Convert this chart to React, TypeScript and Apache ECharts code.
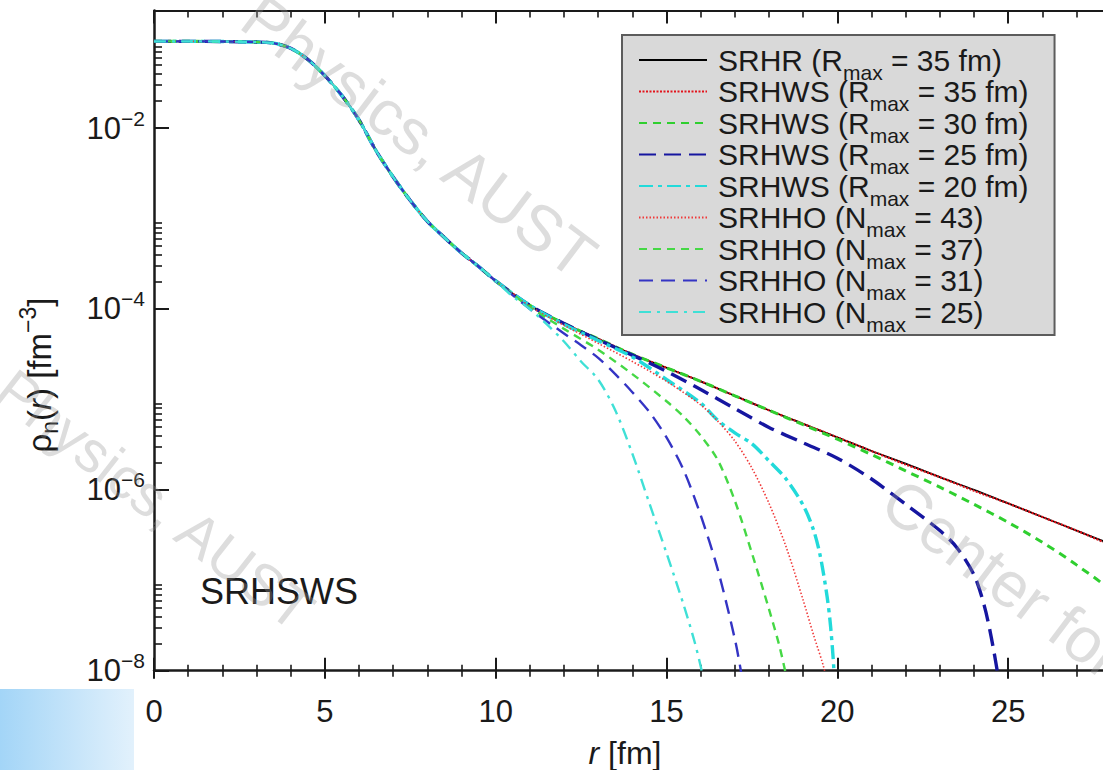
import React, { useEffect, useRef } from "react";
import * as echarts from "echarts";

const FONT = "'Liberation Sans', Arial, Helvetica, sans-serif";
const INK = "#1a1a1a";

// r [fm] and log10(rho_n [fm^-3]) of the inner part, common to every calculation
const R_CORE = [0, 1, 2, 3, 3.5, 4, 4.5, 5, 5.5, 6, 6.5, 7, 7.5, 8, 8.5, 9, 9.5, 10];
const LOG_RHO_CORE = [-1.04, -1.04, -1.042, -1.048, -1.06, -1.117, -1.24, -1.42, -1.64, -1.91, -2.25, -2.54, -2.8, -3.03, -3.21, -3.38, -3.53, -3.69];

// tails
const R_SRHR = [11, 12, 13, 14, 15, 16, 17, 18, 19, 20, 21, 22, 23, 24, 25, 26, 27, 28, 29, 30];
const LOG_SRHR = [-3.96, -4.16, -4.33, -4.5, -4.65, -4.8, -4.96, -5.12, -5.27, -5.42, -5.57, -5.71, -5.86, -6.0, -6.15, -6.3, -6.45, -6.6, -6.75, -6.9];

const R_WS35 = [11, 12, 13, 14, 15, 16, 17, 18, 19, 20, 21, 22, 23, 24, 25, 26, 27, 28, 29, 30];
const LOG_WS35 = [-3.96, -4.16, -4.33, -4.5, -4.65, -4.8, -4.96, -5.12, -5.27, -5.42, -5.57, -5.72, -5.86, -6.01, -6.15, -6.3, -6.45, -6.61, -6.76, -6.91];

const R_WS30 = [11, 12, 13, 14, 15, 16, 17, 18, 19, 20, 21, 22, 23, 24, 25, 26, 27, 28, 29, 29.5, 30];
const LOG_WS30 = [-3.96, -4.16, -4.33, -4.5, -4.65, -4.8, -4.96, -5.12, -5.28, -5.44, -5.61, -5.79, -5.97, -6.16, -6.36, -6.58, -6.83, -7.12, -7.6, -8.1, -9.5];

const R_WS25 = [11, 12, 13, 14, 15, 16, 17, 18, 19, 20, 21, 22, 23, 23.5, 24, 24.3, 24.5, 24.7, 24.9, 25];
const LOG_WS25 = [-3.96, -4.16, -4.34, -4.51, -4.69, -4.89, -5.1, -5.31, -5.48, -5.65, -5.88, -6.16, -6.45, -6.64, -6.94, -7.28, -7.62, -8.05, -8.6, -9.5];

const R_WS20 = [11, 12, 13, 14, 15, 16, 16.5, 17, 17.5, 18, 18.5, 19, 19.3, 19.5, 19.7, 19.8, 19.9, 20];
const LOG_WS20 = [-3.96, -4.17, -4.35, -4.53, -4.78, -5.04, -5.23, -5.37, -5.49, -5.68, -5.88, -6.17, -6.44, -6.73, -7.18, -7.5, -8.0, -9.0];

const R_HO43 = [11, 12, 13, 14, 15, 16, 16.5, 17, 17.5, 18, 18.5, 19, 19.3, 19.6, 19.8, 20];
const LOG_HO43 = [-3.97, -4.18, -4.38, -4.58, -4.8, -5.06, -5.24, -5.46, -5.76, -6.15, -6.63, -7.22, -7.6, -7.96, -8.3, -8.9];

const R_HO37 = [11, 12, 13, 14, 15, 15.5, 16, 16.5, 17, 17.5, 18, 18.3, 18.5, 18.7];
const LOG_HO37 = [-3.98, -4.22, -4.45, -4.72, -5.02, -5.19, -5.4, -5.67, -6.12, -6.7, -7.32, -7.72, -8.05, -8.4];

const R_HO31 = [11, 12, 12.5, 13, 13.5, 14, 14.5, 15, 15.5, 16, 16.5, 17, 17.2, 17.4];
const LOG_HO31 = [-4.0, -4.27, -4.4, -4.54, -4.72, -4.92, -5.14, -5.42, -5.78, -6.28, -6.88, -7.65, -8.05, -8.5];

const R_HO25 = [10.5, 11, 11.5, 12, 12.5, 13, 13.5, 14, 14.5, 15, 15.5, 15.8, 16, 16.2];
const LOG_HO25 = [-3.86, -4.0, -4.17, -4.36, -4.58, -4.78, -5.12, -5.6, -6.15, -6.7, -7.27, -7.65, -7.95, -8.3];

const SERIES_NAMES = [
  "SRHR (Rmax = 35 fm)",
  "SRHWS (Rmax = 35 fm)",
  "SRHWS (Rmax = 30 fm)",
  "SRHWS (Rmax = 25 fm)",
  "SRHWS (Rmax = 20 fm)",
  "SRHHO (Nmax = 43)",
  "SRHHO (Nmax = 37)",
  "SRHHO (Nmax = 31)",
  "SRHHO (Nmax = 25)",
];
const SERIES_R = [R_SRHR, R_WS35, R_WS30, R_WS25, R_WS20, R_HO43, R_HO37, R_HO31, R_HO25];
const SERIES_LOG = [LOG_SRHR, LOG_WS35, LOG_WS30, LOG_WS25, LOG_WS20, LOG_HO43, LOG_HO37, LOG_HO31, LOG_HO25];

// tick labels / tick positions
const X_TICK_LABELS = [0, 5, 10, 15, 20, 25];
const Y_MAJOR = [1e-8, 1e-6, 1e-4, 1e-2];
const Y_MINOR = [
  2e-8, 3e-8, 4e-8, 5e-8, 6e-8, 7e-8, 8e-8, 9e-8,
  2e-6, 3e-6, 4e-6, 5e-6, 6e-6, 7e-6, 8e-6, 9e-6,
  2e-4, 3e-4, 4e-4, 5e-4, 6e-4, 7e-4, 8e-4, 9e-4,
  2e-2, 3e-2, 4e-2, 5e-2, 6e-2, 7e-2, 8e-2, 9e-2,
];

const STYLES = [
  { color: "#000000", width: 1.8, type: "solid" as any },
  { color: "#e3141c", width: 2.2, type: [2, 1.5] },
  { color: "#2fcf2f", width: 3, type: [8, 6] },
  { color: "#1616a0", width: 3.4, type: [17, 8] },
  { color: "#22dada", width: 3.4, type: [14, 5, 4, 5] },
  { color: "#f03a3a", width: 1.6, type: [1.5, 2] },
  { color: "#45d845", width: 2.4, type: [8, 6] },
  { color: "#3434c4", width: 2.4, type: [14, 8] },
  { color: "#3fe0d6", width: 2.4, type: [12, 6, 3, 6] },
];

const WATERMARK_FILL = "rgba(150,150,150,0.32)";

function buildOption(): any {
  const series = SERIES_NAMES.map((name, i) => {
    const rs = R_CORE.concat(SERIES_R[i]);
    const ls = LOG_RHO_CORE.concat(SERIES_LOG[i]);
    return {
      name,
      type: "line",
      xAxisIndex: 0,
      yAxisIndex: 0,
      symbol: "none",
      showSymbol: false,
      smooth: 0.3,
      clip: true,
      lineStyle: { color: STYLES[i].color, width: STYLES[i].width, type: STYLES[i].type, cap: "butt" },
      itemStyle: { color: STYLES[i].color },
      emphasis: { disabled: true },
      data: rs.map((r, k) => [r, Math.pow(10, ls[k])]),
    };
  });

  const axisLineStyle = { color: INK, width: 2.5 };
  const tickStyle = { color: INK, width: 2 };
  const minorStyle = { color: INK, width: 1.6 };

  return {
    animation: false,
    backgroundColor: "#ffffff",
    grid: {
      left: 154,
      right: -76,
      top: 10.5,
      bottom: 99.3,
      containLabel: false,
      outerBoundsMode: "none",
    },
    legend: {
      orient: "vertical",
      left: 622,
      top: 35,
      itemWidth: 68,
      itemHeight: 14,
      itemGap: -13.5,
      padding: [2.5, 26, 0.5, 16],
      backgroundColor: "#d9d9d9",
      borderColor: "#5c5c5c",
      borderWidth: 2,
      borderRadius: 0,
      selectedMode: false,
      itemStyle: { opacity: 0, borderWidth: 0 },
      data: SERIES_NAMES,
      formatter: (name: string) => {
        const i = name.indexOf("max");
        return `{t0|${name.slice(0, i)}}{sub|max}{t|${name.slice(i + 3)}}`;
      },
      textStyle: {
        color: INK,
        fontFamily: FONT,
        fontSize: 30,
        rich: {
          t0: { fontFamily: FONT, fontSize: 30, color: INK, lineHeight: 30, padding: [0, 0, 0, 6] },
          t: { fontFamily: FONT, fontSize: 30, color: INK, lineHeight: 30 },
          sub: { fontFamily: FONT, fontSize: 21, color: INK, lineHeight: 30, padding: [24, 0, 0, 0] },
        },
      },
    },
    xAxis: [
      {
        type: "value",
        min: 0,
        max: 30,
        interval: 5,
        position: "bottom",
        name: "{i|r}{t| [fm]}",
        nameLocation: "middle",
        nameGap: 65,
        nameTextStyle: {
          fontFamily: FONT,
          fontSize: 32,
          color: INK,
          padding: [0, 83, 0, 0],
          rich: {
            i: { fontFamily: FONT, fontSize: 32, fontStyle: "italic", color: INK, lineHeight: 34 },
            t: { fontFamily: FONT, fontSize: 32, color: INK, lineHeight: 34 },
          },
        },
        axisLine: { show: true, onZero: false, lineStyle: axisLineStyle },
        axisTick: { show: true, inside: true, length: 13, lineStyle: tickStyle },
        minorTick: { show: true, splitNumber: 5, length: 6, lineStyle: minorStyle },
        axisLabel: {
          show: true,
          margin: 25,
          fontFamily: FONT,
          fontSize: 31,
          color: INK,
          formatter: (v: number) => (X_TICK_LABELS.indexOf(v) >= 0 ? String(v) : ""),
        },
        splitLine: { show: false },
        minorSplitLine: { show: false },
      },
      {
        type: "value",
        min: 0,
        max: 30,
        interval: 5,
        position: "bottom",
        axisLine: { show: false, onZero: false },
        axisTick: { show: true, inside: false, length: 8, lineStyle: tickStyle },
        minorTick: { show: true, splitNumber: 5, length: 6, lineStyle: minorStyle },
        axisLabel: { show: false },
        splitLine: { show: false },
        minorSplitLine: { show: false },
      },
      {
        type: "value",
        min: 0,
        max: 30,
        interval: 5,
        position: "top",
        axisLine: { show: true, onZero: false, lineStyle: { color: INK, width: 2.2 } },
        axisTick: { show: true, inside: true, length: 13, lineStyle: tickStyle },
        minorTick: { show: true, splitNumber: 5, length: 7, lineStyle: minorStyle },
        axisLabel: { show: false },
        splitLine: { show: false },
        minorSplitLine: { show: false },
      },
    ],
    yAxis: [
      {
        type: "log",
        logBase: 10,
        min: 1e-8,
        max: 0.2,
        position: "left",
        name: "{t|ρ}{sub|n}{t|(}{i|r}{t|) [fm}{sup|−3}{t|]}",
        nameLocation: "middle",
        nameGap: 97,
        nameTextStyle: {
          fontFamily: FONT,
          fontSize: 33,
          color: INK,
          padding: [0, 69, 0, 0],
          rich: {
            t: { fontFamily: FONT, fontSize: 33, color: INK, lineHeight: 36 },
            i: { fontFamily: FONT, fontSize: 33, fontStyle: "italic", color: INK, lineHeight: 36 },
            sub: { fontFamily: FONT, fontSize: 23, color: INK, lineHeight: 36, padding: [22, 0, 0, 0] },
            sup: { fontFamily: FONT, fontSize: 23, color: INK, lineHeight: 36, padding: [0, 0, 22, 0] },
          },
        },
        axisLine: { show: true, onZero: false, lineStyle: axisLineStyle },
        axisTick: { show: true, inside: true, length: 15, lineStyle: tickStyle, customValues: Y_MAJOR },
        minorTick: { show: false },
        axisLabel: {
          show: true,
          margin: 9,
          customValues: Y_MAJOR,
          formatter: (v: number) => {
            const e = Math.round(Math.log10(v));
            if (Math.abs(Math.log10(v) - e) > 1e-6 || e % 2 !== 0) return "";
            return `{b|10}{sup|−${-e}}`;
          },
          rich: {
            b: { fontFamily: FONT, fontSize: 31, color: INK, lineHeight: 34 },
            sup: { fontFamily: FONT, fontSize: 21, color: INK, lineHeight: 34, padding: [0, 0, 20, 0] },
          },
        },
        splitLine: { show: false },
      },
      {
        type: "log",
        logBase: 10,
        min: 1e-8,
        max: 0.2,
        position: "left",
        axisLine: { show: false, onZero: false },
        axisTick: { show: true, inside: true, length: 8, lineStyle: minorStyle, customValues: Y_MINOR },
        axisLabel: { show: false },
        splitLine: { show: false },
      },
    ],
    graphic: [
      {
        type: "text",
        silent: true,
        z: 100,
        x: 200,
        y: 591,
        style: {
          text: "SRHSWS",
          fontFamily: FONT,
          fontSize: 36,
          fill: INK,
          align: "left",
          verticalAlign: "middle",
          textAlign: "left",
          textVerticalAlign: "middle",
        },
      },
      {
        type: "text",
        silent: true,
        z: 101,
        x: 588,
        y: 264,
        rotation: -0.646,
        style: {
          text: "Physics, AUST",
          fontFamily: FONT,
          fontSize: 64,
          fill: WATERMARK_FILL,
          align: "right",
          verticalAlign: "middle",
          textAlign: "right",
          textVerticalAlign: "middle",
        },
      },
      {
        type: "text",
        silent: true,
        z: 101,
        x: 306,
        y: 618,
        rotation: -0.663,
        style: {
          text: "Physics, AUST",
          fontFamily: FONT,
          fontSize: 58,
          fill: WATERMARK_FILL,
          align: "right",
          verticalAlign: "middle",
          textAlign: "right",
          textVerticalAlign: "middle",
        },
      },
      {
        type: "text",
        silent: true,
        z: 101,
        x: 890,
        y: 493,
        rotation: -0.646,
        style: {
          text: "Center for",
          fontFamily: FONT,
          fontSize: 64,
          fill: WATERMARK_FILL,
          align: "left",
          verticalAlign: "middle",
          textAlign: "left",
          textVerticalAlign: "middle",
        },
      },
      {
        type: "rect",
        silent: true,
        z: 102,
        shape: { x: 0, y: 689, width: 134, height: 81 },
        style: {
          fill: new echarts.graphic.LinearGradient(0, 0, 1, 0, [
            { offset: 0, color: "#a3d5f7" },
            { offset: 1, color: "#e2f1fc" },
          ]),
        },
      },
    ],
    series,
  };
}

export default function App() {
  const ref = useRef<HTMLDivElement>(null);
  useEffect(() => {
    if (!ref.current) return;
    const chart = echarts.init(ref.current, null, { renderer: "svg" });
    chart.setOption(buildOption());
    return () => {
      chart.dispose();
    };
  }, []);
  return (
    <div
      ref={ref}
      style={{ position: "fixed", left: 0, top: 0, width: 1103, height: 770, background: "#ffffff", overflow: "hidden" }}
    />
  );
}
